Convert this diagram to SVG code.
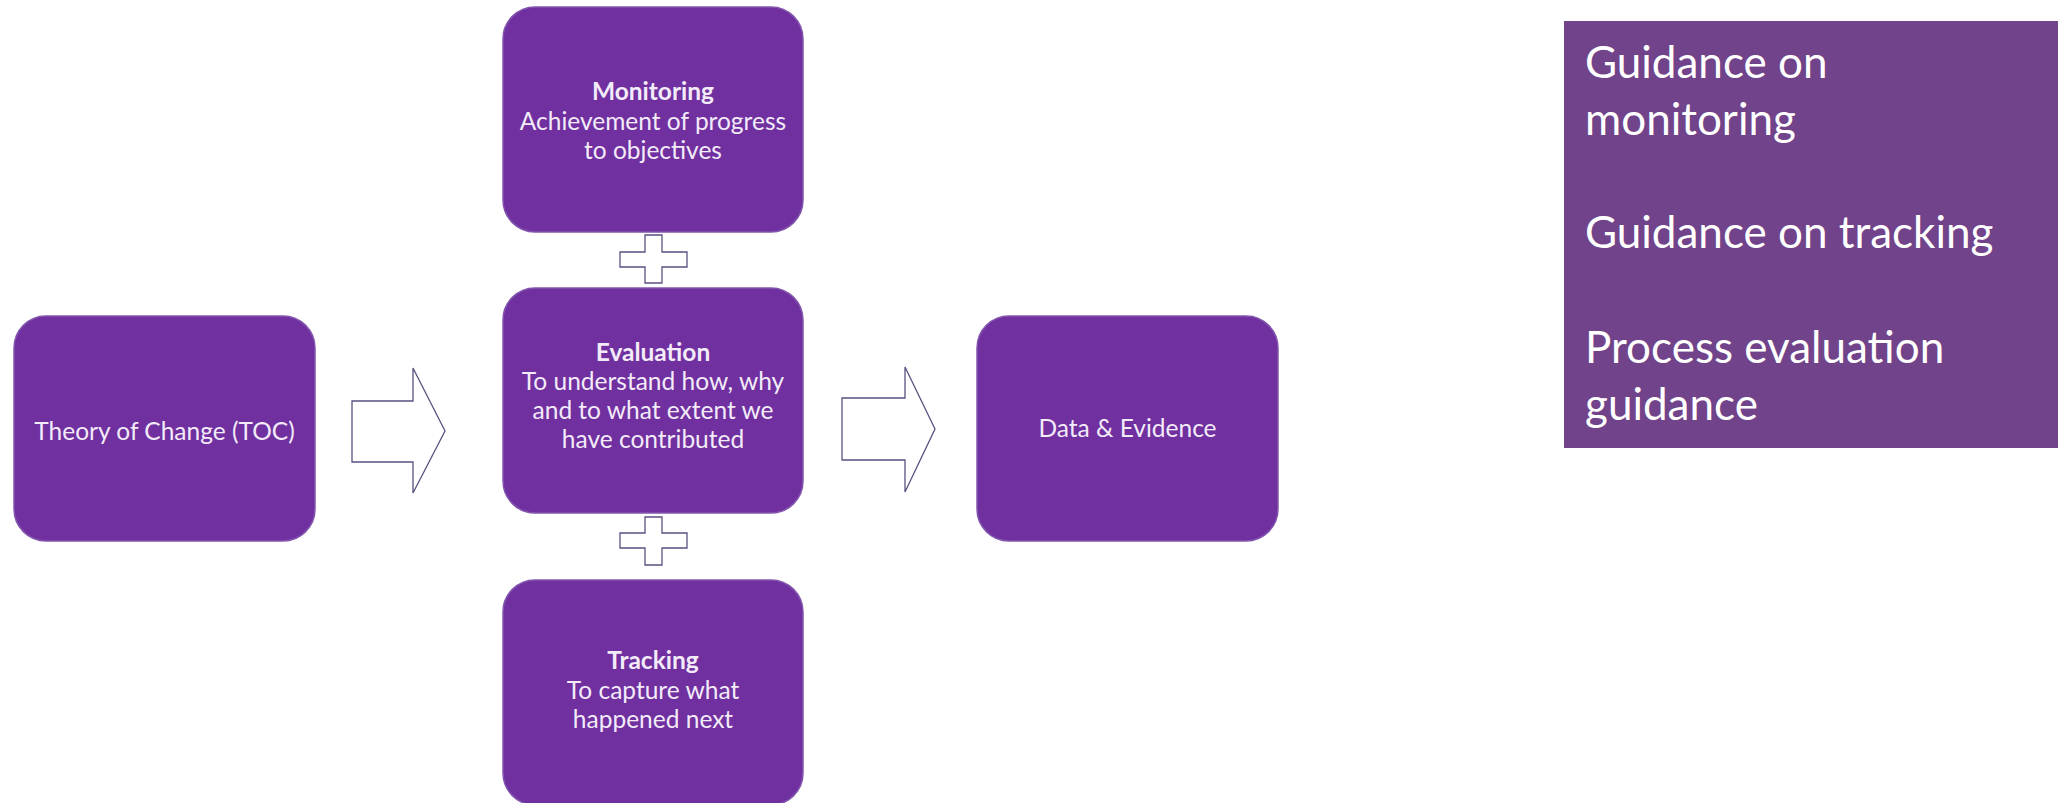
<svg xmlns="http://www.w3.org/2000/svg" width="2058" height="803" viewBox="0 0 2058 803">
<style>
.box{fill:#7030A0;stroke:#8255ad;stroke-width:1.5}
.t{font-family:Lato,"Open Sans","Liberation Sans",sans-serif;font-size:24.5px;fill:#f3ebf8;text-anchor:middle}
.b{font-weight:bold}
.conn{fill:#ffffff;stroke:#5b5080;stroke-width:1.3;stroke-linejoin:miter}
.side{font-family:Lato,"Open Sans","Liberation Sans",sans-serif;font-size:44px;fill:#ffffff}
</style>
<rect width="2058" height="803" fill="#ffffff"/>
<g id="toc">
<rect class="box" x="14" y="316" width="301" height="225" rx="32"/>
<text class="t" x="164.5" y="440">Theory of Change (TOC)</text>
</g>
<g id="monitoring">
<rect class="box" x="503" y="7" width="300" height="225" rx="32"/>
<text class="t b" x="653" y="100">Monitoring</text>
<text class="t" x="653" y="130">Achievement of progress</text>
<text class="t" x="653" y="159">to objectives</text>
</g>
<g id="evaluation">
<rect class="box" x="503" y="288" width="300" height="225" rx="32"/>
<text class="t b" x="653" y="361">Evaluation</text>
<text class="t" x="653" y="390">To understand how, why</text>
<text class="t" x="653" y="419">and to what extent we</text>
<text class="t" x="653" y="448">have contributed</text>
</g>
<g id="tracking">
<rect class="box" x="503" y="580" width="300" height="225" rx="32"/>
<text class="t b" x="653" y="669">Tracking</text>
<text class="t" x="653" y="699">To capture what</text>
<text class="t" x="653" y="728">happened next</text>
</g>
<g id="data">
<rect class="box" x="977" y="316" width="301" height="225" rx="32"/>
<text class="t" x="1127.5" y="437">Data &amp; Evidence</text>
</g>
<g id="connectors">
<polygon class="conn" points="352,401 413,401 413,368 445,431 413,493 413,462 352,462"/>
<polygon class="conn" points="842,398 905,398 905,367 935,429 905,492 905,460 842,460"/>
<polygon class="conn" points="645,235 662,235 662,252 687,252 687,267 662,267 662,283 645,283 645,267 620,267 620,252 645,252"/>
<polygon class="conn" points="645,517 662,517 662,533 687,533 687,548 662,548 662,565 645,565 645,548 620,548 620,533 645,533"/>
</g>
<g id="guidance">
<rect x="1564" y="21" width="494" height="427" fill="#70438A"/>
<text class="side" x="1585" y="78">Guidance on</text>
<text class="side" x="1585" y="135">monitoring</text>
<text class="side" x="1585" y="248">Guidance on tracking</text>
<text class="side" x="1585" y="363">Process evaluation</text>
<text class="side" x="1585" y="420">guidance</text>
</g>
</svg>
